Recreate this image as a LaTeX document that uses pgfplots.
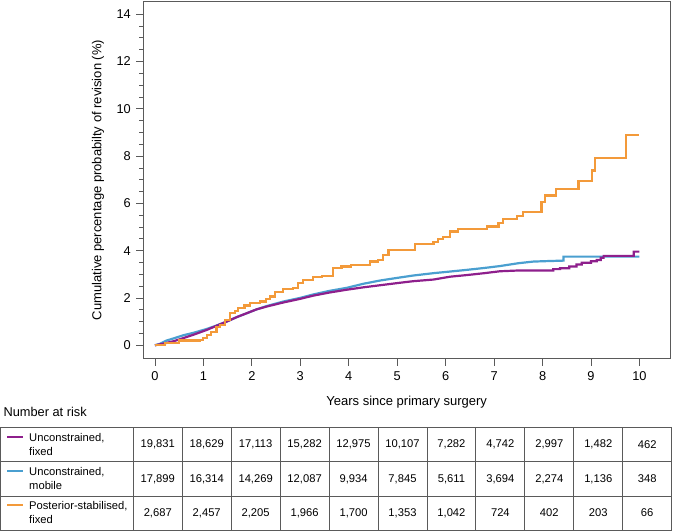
\documentclass[border=0pt]{standalone}
\usepackage{pgfplots}
\pgfplotsset{compat=1.18}
\usepackage{fontspec}
\setmainfont{Liberation Sans}
\definecolor{mypurple}{RGB}{142,31,140}
\definecolor{myblue}{RGB}{74,159,208}
\definecolor{myorange}{RGB}{243,154,58}
\definecolor{axgray}{RGB}{90,90,90}
\begin{document}
\begin{tikzpicture}[x=1pt,y=1pt]
\useasboundingbox (0,0) rectangle (673,532);
\begin{axis}[
 at={(143.3pt,173pt)}, anchor=south west,
 width=526.7pt, height=357.3pt, scale only axis,
 xmin=-0.24, xmax=10.63, ymin=-0.58, ymax=14.53,
 xtick={0,1,...,10}, ytick={0,2,...,14},
 minor y tick num=3,
 tick pos=left, tick align=outside,
 major tick length=7pt, minor tick length=4pt,
 axis line style={axgray, line width=1pt},
 every tick/.style={axgray, line width=0.8pt},
 ticklabel style={font=\fontsize{12.8}{14}\selectfont},
 xticklabel style={yshift=-2pt},
 yticklabel style={xshift=-2pt},
 /pgf/number format/assume math mode=true,
 every axis plot/.append style={line width=2.2pt, line join=miter},
 clip=false,
]
\addplot[myblue, sharp plot] coordinates {
(0,0) (0.1,0.06) (0.24,0.2) (0.4,0.3) (0.58,0.42) (0.8,0.53) (1.07,0.69) (1.25,0.82)
(1.48,1.0) (1.7,1.2) (1.89,1.35) (2.1,1.52) (2.31,1.66) (2.65,1.85) (2.99,2.0)
(3.27,2.15) (3.6,2.3) (3.96,2.43) (4.3,2.6) (4.65,2.74) (5.0,2.85) (5.33,2.95)
(5.75,3.05) (6.1,3.12) (6.44,3.19) (6.8,3.27) (7.12,3.35) (7.5,3.47) (7.81,3.54)
(8.1,3.56) (8.43,3.58) (8.43,3.75) (10.0,3.75)};
\addplot[mypurple, sharp plot] coordinates {
(0,0) (0.2,0.08) (0.4,0.18) (0.58,0.30) (0.8,0.45) (1.07,0.65) (1.3,0.85) (1.5,1.02)
(1.7,1.2) (1.9,1.36) (2.1,1.52) (2.31,1.64) (2.65,1.81) (2.99,1.96) (3.27,2.1)
(3.6,2.23) (3.96,2.35) (4.3,2.45) (4.65,2.54) (5.0,2.63) (5.33,2.71) (5.75,2.78)
(6.09,2.90) (6.44,2.97) (6.8,3.05) (7.12,3.13) (7.47,3.16) (8.22,3.16)
(8.22,3.22) (8.36,3.22) (8.36,3.26) (8.55,3.26) (8.55,3.33) (8.7,3.33) (8.7,3.42)
(8.81,3.42) (8.81,3.49) (9.0,3.49) (9.0,3.55) (9.12,3.55) (9.12,3.61) (9.2,3.61)
(9.2,3.7) (9.26,3.7) (9.26,3.78) (9.88,3.78) (9.88,3.96) (10.0,3.96)};
\addplot[myorange, const plot] coordinates {
(0,0) (0.2,0.08) (0.4,0.11) (0.5,0.2) (0.93,0.22) (1.0,0.32) (1.07,0.44) (1.15,0.55)
(1.27,0.76) (1.35,0.85) (1.45,1.07) (1.55,1.35) (1.65,1.45) (1.72,1.56) (1.85,1.68)
(1.96,1.78) (2.17,1.85) (2.3,1.95) (2.37,2.06) (2.48,2.27) (2.65,2.37) (2.85,2.42)
(2.96,2.65) (3.06,2.76) (3.27,2.88) (3.45,2.93) (3.68,3.26) (3.85,3.33) (4.05,3.40)
(4.44,3.54) (4.6,3.6) (4.71,3.82) (4.82,4.03) (5.37,4.27) (5.75,4.38) (5.85,4.48)
(5.95,4.57) (6.09,4.81) (6.26,4.92) (6.85,5.02) (7.09,5.16) (7.19,5.33) (7.47,5.47)
(7.59,5.65) (7.98,6.07) (8.05,6.33) (8.28,6.61) (8.74,6.96) (9.02,7.39) (9.09,7.91)
(9.73,8.90) (9.98,8.90)};
\end{axis}
% axis titles
\node[rotate=90, font=\fontsize{13}{15}\selectfont] at (98,352) {Cumulative percentage probabilty of revision (\%)};
\node[font=\fontsize{13}{15}\selectfont] at (406.7,130.3) {Years since primary surgery};
\node[anchor=west, font=\fontsize{12.8}{14}\selectfont] at (0,120) {Number at risk};
% table
\draw[axgray, line width=0.9pt] (0.7,2) rectangle (671.7,104.7);
\draw[axgray, line width=0.9pt] (0.7,70.3) -- (671.7,70.3) (0.7,36) -- (671.7,36);
\foreach \i in {0,...,10} {
  \draw[axgray, line width=0.9pt] ({133.3+48.945*\i},2) -- ({133.3+48.945*\i},104.7);
}
\draw[mypurple, line width=2pt] (7,95) -- (23,95);
\node[anchor=west, align=left, inner sep=0pt, font=\fontsize{11.2}{14}\selectfont] at (29,87.5) {Unconstrained,\\fixed};
\draw[myblue, line width=2pt] (7,60.65) -- (23,60.65);
\node[anchor=west, align=left, inner sep=0pt, font=\fontsize{11.2}{14}\selectfont] at (29,53.15) {Unconstrained,\\mobile};
\draw[myorange, line width=2pt] (7,26.5) -- (23,26.5);
\node[anchor=west, align=left, inner sep=0pt, font=\fontsize{11.2}{14}\selectfont] at (29,19) {Posterior-stabilised,\\fixed};
\foreach \v [count=\k from 0] in {19{,}831,18{,}629,17{,}113,15{,}282,12{,}975,10{,}107,7{,}282,4{,}742,2{,}997,1{,}482,462} {
  \node[font=\fontsize{11.2}{13}\selectfont] at ({157.77+48.945*\k},87.5) {\v};
}
\foreach \v [count=\k from 0] in {17{,}899,16{,}314,14{,}269,12{,}087,9{,}934,7{,}845,5{,}611,3{,}694,2{,}274,1{,}136,348} {
  \node[font=\fontsize{11.2}{13}\selectfont] at ({157.77+48.945*\k},53.15) {\v};
}
\foreach \v [count=\k from 0] in {2{,}687,2{,}457,2{,}205,1{,}966,1{,}700,1{,}353,1{,}042,724,402,203,66} {
  \node[font=\fontsize{11.2}{13}\selectfont] at ({157.77+48.945*\k},19) {\v};
}
\end{tikzpicture}
\end{document}
